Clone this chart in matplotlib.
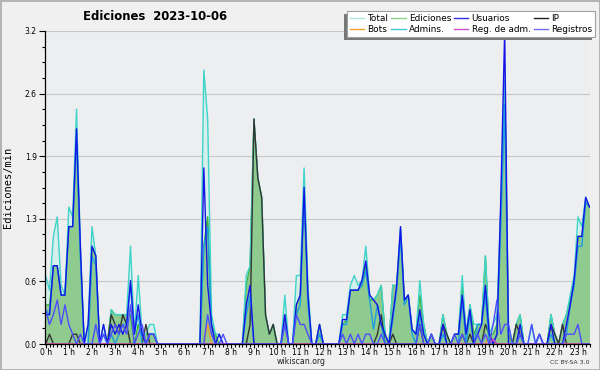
import numpy as np
import matplotlib
matplotlib.use("Agg")
import matplotlib.pyplot as plt
from matplotlib.ticker import FixedLocator, MultipleLocator, FuncFormatter
from matplotlib.lines import Line2D
from matplotlib.patches import Rectangle

# ---- data (10-minute steps, values in edits/min) ----
step_minutes = 10
hour_labels = [f"{h} h" for h in range(24)]
y_ticks = [0.0, 0.64, 1.28, 1.92, 2.56, 3.2]

total = [
    0.7, 0.55, 1.1, 1.3, 0.6, 0.5,
    1.4, 1.3, 2.4, 1.0, 0.0, 0.2,
    1.2, 0.9, 0.0, 0.2, 0.0, 0.35,
    0.3, 0.3, 0.3, 0.3, 1.0, 0.1,
    0.7, 0.1, 0.1, 0.2, 0.2, 0.0,
    0.0, 0.0, 0.0, 0.0, 0.0, 0.0,
    0.0, 0.0, 0.0, 0.0, 0.0, 2.8,
    2.3, 0.3, 0.1, 0.1, 0.0, 0.0,
    0.0, 0.0, 0.0, 0.0, 0.7, 0.8,
    2.3, 1.7, 1.5, 0.3, 0.1, 0.2,
    0.0, 0.0, 0.5, 0.0, 0.0, 0.7,
    0.7, 1.8, 0.6, 0.0, 0.0, 0.2,
    0.0, 0.0, 0.0, 0.0, 0.0, 0.3,
    0.3, 0.6, 0.7, 0.6, 0.65, 1.0,
    0.5, 0.45, 0.5, 0.6, 0.1, 0.0,
    0.6, 0.6, 1.2, 0.45, 0.5, 0.15,
    0.1, 0.65, 0.2, 0.0, 0.1, 0.0,
    0.0, 0.3, 0.1, 0.0, 0.1, 0.1,
    0.7, 0.1, 0.4, 0.2, 0.2, 0.2,
    0.9, 0.1, 0.2, 0.3, 1.4, 2.7,
    0.2, 0.0, 0.2, 0.3, 0.0, 0.0,
    0.2, 0.0, 0.1, 0.0, 0.0, 0.3,
    0.1, 0.0, 0.2, 0.3, 0.5, 0.7,
    1.3, 1.2, 1.5, 1.4,
]

ediciones = [
    0.4, 0.4, 0.8, 0.8, 0.5, 0.5,
    1.2, 1.2, 2.2, 0.9, 0.0, 0.0,
    1.0, 0.9, 0.0, 0.0, 0.0, 0.35,
    0.3, 0.3, 0.3, 0.3, 0.3, 0.0,
    0.2, 0.1, 0.1, 0.1, 0.1, 0.0,
    0.0, 0.0, 0.0, 0.0, 0.0, 0.0,
    0.0, 0.0, 0.0, 0.0, 0.0, 1.0,
    1.3, 0.2, 0.1, 0.0, 0.0, 0.0,
    0.0, 0.0, 0.0, 0.0, 0.6, 0.8,
    2.3, 1.7, 1.5, 0.3, 0.1, 0.2,
    0.0, 0.0, 0.3, 0.0, 0.0, 0.4,
    0.5, 1.6, 0.5, 0.0, 0.0, 0.2,
    0.0, 0.0, 0.0, 0.0, 0.0, 0.2,
    0.25, 0.55, 0.55, 0.55, 0.6, 0.8,
    0.45, 0.45, 0.5, 0.6, 0.1, 0.0,
    0.6, 0.6, 1.15, 0.45, 0.5, 0.15,
    0.1, 0.5, 0.2, 0.0, 0.1, 0.0,
    0.0, 0.3, 0.1, 0.0, 0.1, 0.1,
    0.6, 0.1, 0.4, 0.1, 0.2, 0.2,
    0.9, 0.1, 0.1, 0.2, 1.3, 2.7,
    0.1, 0.0, 0.2, 0.3, 0.0, 0.0,
    0.0, 0.0, 0.0, 0.0, 0.0, 0.3,
    0.1, 0.0, 0.2, 0.3, 0.45, 0.65,
    1.1, 1.1, 1.45, 1.4,
]

usuarios = [
    0.3, 0.3, 0.8, 0.8, 0.5, 0.5,
    1.2, 1.2, 2.2, 1.0, 0.0, 0.2,
    1.0, 0.9, 0.0, 0.2, 0.0, 0.2,
    0.1, 0.2, 0.1, 0.2, 0.65, 0.1,
    0.4, 0.1, 0.0, 0.1, 0.1, 0.0,
    0.0, 0.0, 0.0, 0.0, 0.0, 0.0,
    0.0, 0.0, 0.0, 0.0, 0.0, 1.8,
    0.6, 0.2, 0.0, 0.1, 0.0, 0.0,
    0.0, 0.0, 0.0, 0.0, 0.4, 0.6,
    0.0, 0.0, 0.0, 0.0, 0.0, 0.0,
    0.0, 0.0, 0.3, 0.0, 0.0, 0.4,
    0.5, 1.6, 0.5, 0.0, 0.0, 0.2,
    0.0, 0.0, 0.0, 0.0, 0.0, 0.25,
    0.25, 0.55, 0.55, 0.55, 0.65, 0.85,
    0.5, 0.45, 0.4, 0.2, 0.1, 0.0,
    0.3, 0.6, 1.2, 0.45, 0.5, 0.15,
    0.1, 0.35, 0.1, 0.0, 0.1, 0.0,
    0.0, 0.2, 0.0, 0.0, 0.1, 0.1,
    0.5, 0.1, 0.35, 0.0, 0.1, 0.2,
    0.6, 0.1, 0.0, 0.1, 1.5, 3.2,
    0.0, 0.0, 0.0, 0.2, 0.0, 0.0,
    0.0, 0.0, 0.1, 0.0, 0.0, 0.2,
    0.0, 0.0, 0.0, 0.2, 0.4, 0.65,
    1.1, 1.1, 1.5, 1.4,
]

admins = [
    0.35, 0.3, 0.8, 0.8, 0.5, 0.5,
    1.2, 1.2, 2.1, 0.9, 0.0, 0.0,
    0.9, 0.8, 0.0, 0.1, 0.0, 0.1,
    0.0, 0.1, 0.2, 0.2, 0.6, 0.1,
    0.3, 0.0, 0.0, 0.1, 0.1, 0.0,
    0.0, 0.0, 0.0, 0.0, 0.0, 0.0,
    0.0, 0.0, 0.0, 0.0, 0.0, 1.0,
    1.2, 0.2, 0.0, 0.0, 0.0, 0.0,
    0.0, 0.0, 0.0, 0.0, 0.3, 0.5,
    0.0, 0.0, 0.0, 0.0, 0.0, 0.0,
    0.0, 0.0, 0.2, 0.0, 0.0, 0.3,
    0.4, 1.5, 0.4, 0.0, 0.0, 0.1,
    0.0, 0.0, 0.0, 0.0, 0.0, 0.2,
    0.2, 0.55, 0.55, 0.55, 0.6, 0.75,
    0.45, 0.15, 0.4, 0.2, 0.0, 0.0,
    0.25, 0.55, 1.1, 0.4, 0.5, 0.1,
    0.0, 0.3, 0.1, 0.0, 0.0, 0.0,
    0.0, 0.1, 0.0, 0.0, 0.0, 0.0,
    0.45, 0.0, 0.3, 0.0, 0.2, 0.2,
    0.5, 0.0, 0.0, 0.1, 1.2, 2.45,
    0.0, 0.0, 0.0, 0.1, 0.0, 0.0,
    0.0, 0.0, 0.0, 0.0, 0.0, 0.1,
    0.0, 0.0, 0.0, 0.1, 0.4, 0.6,
    1.0, 1.0, 1.45, 1.4,
]

registros = [
    0.35, 0.2, 0.3, 0.45, 0.2, 0.4,
    0.2, 0.1, 0.0, 0.1, 0.0, 0.0,
    0.0, 0.2, 0.0, 0.1, 0.0, 0.1,
    0.2, 0.1, 0.2, 0.1, 0.4, 0.0,
    0.1, 0.2, 0.0, 0.1, 0.1, 0.0,
    0.0, 0.0, 0.0, 0.0, 0.0, 0.0,
    0.0, 0.0, 0.0, 0.0, 0.0, 0.0,
    0.3, 0.1, 0.0, 0.0, 0.1, 0.0,
    0.0, 0.0, 0.0, 0.0, 0.0, 0.0,
    0.0, 0.0, 0.0, 0.0, 0.0, 0.0,
    0.0, 0.0, 0.2, 0.0, 0.0, 0.3,
    0.2, 0.2, 0.1, 0.0, 0.0, 0.0,
    0.0, 0.0, 0.0, 0.0, 0.0, 0.1,
    0.0, 0.1, 0.0, 0.1, 0.0, 0.1,
    0.1, 0.0, 0.0, 0.1, 0.0, 0.0,
    0.0, 0.0, 0.0, 0.0, 0.0, 0.0,
    0.0, 0.2, 0.0, 0.0, 0.1, 0.0,
    0.0, 0.0, 0.0, 0.0, 0.1, 0.0,
    0.1, 0.0, 0.0, 0.0, 0.1, 0.0,
    0.1, 0.0, 0.2, 0.45, 0.1, 0.2,
    0.2, 0.0, 0.0, 0.1, 0.0, 0.0,
    0.2, 0.0, 0.1, 0.0, 0.0, 0.0,
    0.0, 0.0, 0.0, 0.1, 0.1, 0.1,
    0.2, 0.0, 0.0, 0.0,
]

ip = [
    0.0, 0.1, 0.0, 0.0, 0.0, 0.0,
    0.0, 0.1, 0.1, 0.0, 0.0, 0.0,
    0.0, 0.0, 0.0, 0.0, 0.0, 0.3,
    0.2, 0.1, 0.3, 0.2, 0.0, 0.0,
    0.0, 0.0, 0.2, 0.0, 0.0, 0.0,
    0.0, 0.0, 0.0, 0.0, 0.0, 0.0,
    0.0, 0.0, 0.0, 0.0, 0.0, 0.0,
    0.0, 0.0, 0.0, 0.0, 0.0, 0.0,
    0.0, 0.0, 0.0, 0.0, 0.0, 0.2,
    2.3, 1.7, 1.5, 0.3, 0.1, 0.2,
    0.0, 0.0, 0.0, 0.0, 0.0, 0.0,
    0.0, 0.0, 0.0, 0.0, 0.0, 0.0,
    0.0, 0.0, 0.0, 0.0, 0.0, 0.0,
    0.0, 0.0, 0.0, 0.0, 0.0, 0.0,
    0.0, 0.0, 0.1, 0.3, 0.0, 0.0,
    0.1, 0.0, 0.0, 0.0, 0.0, 0.0,
    0.0, 0.2, 0.0, 0.0, 0.0, 0.0,
    0.0, 0.2, 0.1, 0.0, 0.0, 0.0,
    0.1, 0.0, 0.1, 0.0, 0.0, 0.0,
    0.2, 0.1, 0.0, 0.0, 0.0, 0.0,
    0.0, 0.0, 0.2, 0.1, 0.0, 0.0,
    0.0, 0.0, 0.0, 0.0, 0.0, 0.2,
    0.1, 0.0, 0.2, 0.0, 0.0, 0.0,
    0.0, 0.0, 0.0, 0.0,
]

bots = [
    0.0, 0.0, 0.0, 0.0, 0.0, 0.0,
    0.0, 0.0, 0.0, 0.0, 0.0, 0.0,
    0.0, 0.0, 0.0, 0.0, 0.0, 0.0,
    0.0, 0.0, 0.0, 0.0, 0.0, 0.0,
    0.0, 0.0, 0.0, 0.0, 0.0, 0.0,
    0.0, 0.0, 0.0, 0.0, 0.0, 0.0,
    0.0, 0.0, 0.0, 0.0, 0.0, 0.0,
    0.2, 0.0, 0.0, 0.0, 0.0, 0.0,
    0.0, 0.0, 0.0, 0.0, 0.0, 0.0,
    0.0, 0.0, 0.0, 0.0, 0.0, 0.0,
    0.0, 0.0, 0.0, 0.0, 0.0, 0.0,
    0.0, 0.0, 0.0, 0.0, 0.0, 0.0,
    0.0, 0.0, 0.0, 0.0, 0.0, 0.0,
    0.0, 0.0, 0.0, 0.0, 0.0, 0.0,
    0.0, 0.0, 0.0, 0.0, 0.0, 0.0,
    0.0, 0.0, 0.0, 0.0, 0.0, 0.0,
    0.0, 0.0, 0.0, 0.0, 0.0, 0.0,
    0.0, 0.0, 0.0, 0.0, 0.0, 0.0,
    0.0, 0.0, 0.0, 0.0, 0.0, 0.0,
    0.0, 0.1, 0.0, 0.0, 0.0, 0.0,
    0.0, 0.0, 0.0, 0.0, 0.0, 0.0,
    0.0, 0.0, 0.0, 0.0, 0.0, 0.0,
    0.0, 0.0, 0.0, 0.0, 0.0, 0.0,
    0.0, 0.0, 0.0, 0.0,
]

reg_adm = [
    0.0, 0.0, 0.0, 0.0, 0.0, 0.0,
    0.0, 0.0, 0.0, 0.0, 0.0, 0.0,
    0.0, 0.0, 0.0, 0.0, 0.0, 0.0,
    0.0, 0.0, 0.0, 0.0, 0.0, 0.0,
    0.0, 0.0, 0.0, 0.0, 0.0, 0.0,
    0.0, 0.0, 0.0, 0.0, 0.0, 0.0,
    0.0, 0.0, 0.0, 0.0, 0.0, 0.0,
    0.0, 0.0, 0.0, 0.0, 0.0, 0.0,
    0.0, 0.0, 0.0, 0.0, 0.0, 0.0,
    0.0, 0.0, 0.0, 0.0, 0.0, 0.0,
    0.0, 0.0, 0.0, 0.0, 0.0, 0.0,
    0.0, 0.0, 0.0, 0.0, 0.0, 0.0,
    0.0, 0.0, 0.0, 0.0, 0.0, 0.0,
    0.0, 0.0, 0.0, 0.0, 0.0, 0.0,
    0.0, 0.0, 0.0, 0.0, 0.0, 0.0,
    0.0, 0.0, 0.0, 0.0, 0.0, 0.0,
    0.0, 0.0, 0.0, 0.0, 0.0, 0.0,
    0.0, 0.0, 0.0, 0.0, 0.0, 0.0,
    0.0, 0.0, 0.0, 0.0, 0.0, 0.0,
    0.0, 0.0, 0.05, 0.0, 0.0, 0.0,
    0.0, 0.0, 0.0, 0.0, 0.0, 0.0,
    0.0, 0.0, 0.0, 0.0, 0.0, 0.0,
    0.0, 0.0, 0.0, 0.0, 0.0, 0.0,
    0.0, 0.0, 0.0, 0.0,
]

# ---- styling ----
C_TOTAL_LINE = "#3fd3c9"
C_TOTAL_FILL = "#d5efec"
C_ED_LINE = "#3cb23c"
C_ED_FILL = "#8fca8f"
C_US = "#1414e6"
C_IP = "#333333"
C_BOTS = "#f0a030"
C_ADM = "#1a9fe0"
C_REGADM = "#d040d0"
C_REG = "#4d4dff"

W, H = 600, 370
fig = plt.figure(figsize=(W / 100, H / 100), dpi=100, facecolor="#f0f0f0")
left, right, top, bottom = 44.5, 590, 31, 344
ax = fig.add_axes([left / W, 1 - bottom / H, (right - left) / W, (bottom - top) / H])
ax.set_facecolor("#eceef0")

x = np.arange(len(total)) * step_minutes / 60.0

ax.fill_between(x, total, color=C_TOTAL_FILL, lw=0, zorder=1)
ax.fill_between(x, ediciones, color=C_ED_FILL, lw=0, zorder=2)
ax.plot(x, ediciones, color=C_ED_LINE, lw=1.0, zorder=3)
ax.plot(x, total, color=C_TOTAL_LINE, lw=1.0, zorder=3)
ax.plot(x, ip, color=C_IP, lw=1.0, zorder=4)
ax.plot(x, bots, color=C_BOTS, lw=1.0, zorder=4)
ax.plot(x, admins, color=C_ADM, lw=1.0, zorder=4)
ax.plot(x, usuarios, color=C_US, lw=1.0, zorder=5)
ax.plot(x, reg_adm, color=C_REGADM, lw=1.0, zorder=5)
ax.plot(x, registros, color=C_REG, lw=1.0, zorder=5)

ax.set_xlim(-0.05, 23.52)
ax.set_ylim(0, 3.2)

ax.yaxis.set_major_locator(FixedLocator(y_ticks))
ax.yaxis.set_major_formatter(FuncFormatter(lambda v, p: f"{v:.1f}"))
ax.yaxis.set_minor_locator(MultipleLocator(0.16))
ax.xaxis.set_major_locator(FixedLocator(list(range(24))))
ax.set_xticklabels(hour_labels)
ax.xaxis.set_minor_locator(MultipleLocator(step_minutes / 60.0))

ax.tick_params(axis="y", which="major", labelsize=5.5, length=4, width=0.8,
               color="black", pad=1.5, direction="out")
ax.tick_params(axis="y", which="minor", length=2.5, width=0.8, color="black",
               direction="out")
ax.tick_params(axis="x", which="major", labelsize=5.5, length=2.6, width=0.8,
               color="black", pad=0.6, direction="out")
ax.tick_params(axis="x", which="minor", length=2.0, width=0.8, color="black",
               direction="out")

ax.grid(axis="y", which="major", color="#c8c8c8", lw=0.8, zorder=0)
ax.set_axisbelow(True)
for s in ["top", "right"]:
    ax.spines[s].set_visible(False)
for s in ["left", "bottom"]:
    ax.spines[s].set_color("black")
    ax.spines[s].set_linewidth(0.9)
    ax.spines[s].set_zorder(6)

fig.text(8 / W, 1 - 187 / H, "Ediciones/min", rotation=90, ha="center", va="center",
         family="DejaVu Sans Mono", fontsize=7.5)
fig.text(155 / W, 1 - 17 / H, "Ediciones  2023-10-06", ha="center", va="center",
         fontsize=8.4, fontweight="bold")
fig.text(301 / W, 1 - 362 / H, "wikiscan.org", ha="center", va="center", fontsize=5.6,
         color="#222222")
fig.text(589 / W, 1 - 362.5 / H, "CC BY-SA 3.0", ha="right", va="center", fontsize=4.4,
         color="#333333")

# legend
labels = ["Total", "Bots", "Ediciones", "Admins.", "Usuarios", "Reg. de adm.", "IP", "Registros"]
colors = ["#b2e6e4", "#f5a030", "#8ed48e", "#40c8d8", "#3030e0", "#d050d0", "#222222", "#7070f0"]
handles = [Line2D([0], [0], color=c, lw=1.0) for c in colors]
leg = fig.legend(handles, labels, ncol=4, loc="upper left",
                 bbox_to_anchor=(347 / W, 1 - 11 / H), fontsize=6.4, frameon=True,
                 fancybox=False, framealpha=1.0, edgecolor="#a0a0a0",
                 borderpad=0.35, labelspacing=0.25, handlelength=1.6,
                 handletextpad=0.35, columnspacing=0.35, borderaxespad=0)
leg.set_zorder(10)
leg.get_frame().set_linewidth(0.8)

fig.canvas.draw()
bb = leg.get_window_extent()
shadow = Rectangle(((bb.x0 - 3) / W, (bb.y0 - 3) / H), bb.width / W, bb.height / H,
                   transform=fig.transFigure, facecolor="#777777", edgecolor="none",
                   zorder=9)
fig.add_artist(shadow)

border = Rectangle((0.5 / W, 0.5 / H), (W - 1) / W, (H - 1) / H, transform=fig.transFigure,
                   fill=False, edgecolor="#a8a8a8", lw=1.2, zorder=0)
fig.add_artist(border)

fig.savefig("out.png", dpi=100, facecolor=fig.get_facecolor())
